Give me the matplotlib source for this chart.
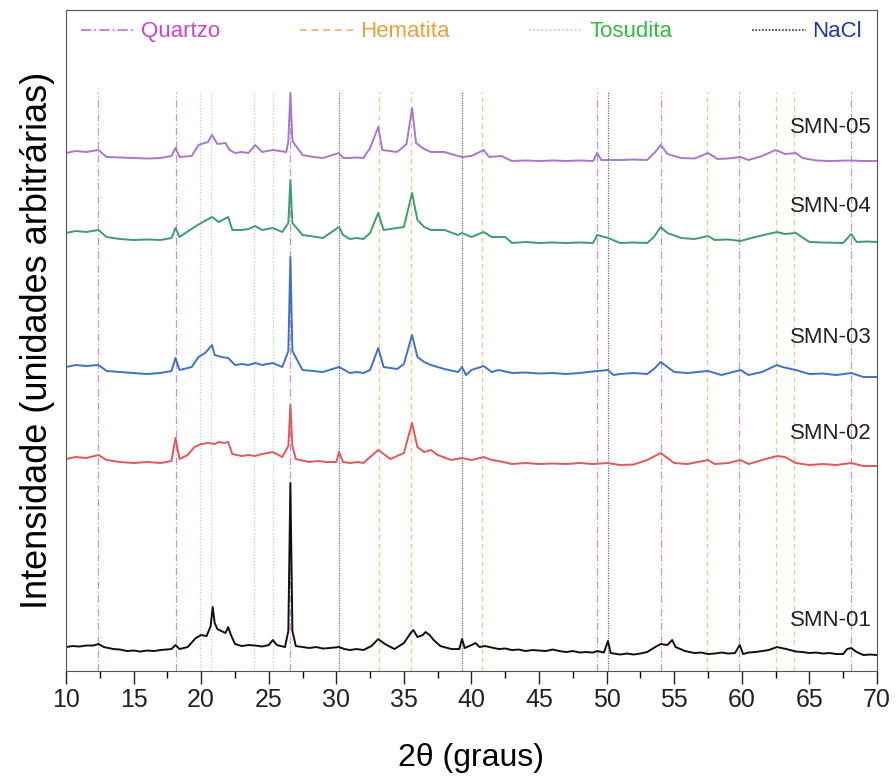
import numpy as np
import matplotlib.pyplot as plt
from matplotlib.lines import Line2D
from matplotlib.ticker import MultipleLocator

plt.rcParams['font.family'] = ['Liberation Sans', 'DejaVu Sans']

# difratogramas (altura em unidades arbitrarias, ja empilhados)
x01 = [10, 10.5, 11, 11.5, 12, 12.4, 12.8, 13.5, 14, 14.5, 15, 15.5, 16, 16.5, 17, 17.8, 18.1, 18.4, 19,
       19.6, 20, 20.4, 20.7, 20.85, 21, 21.2, 21.5, 21.8, 22, 22.2, 22.5, 23, 23.5, 24, 24.5, 25, 25.3,
       25.6, 26.2, 26.45, 26.6, 26.75, 27, 27.5, 28, 28.5, 29, 29.5, 30.2, 30.6, 31, 31.5, 32, 32.6, 33.1,
       33.6, 34.3, 35, 35.5, 35.7, 36, 36.4, 36.6, 36.9, 37.2, 37.7, 38.5, 39.1, 39.3, 39.5, 40, 40.3,
       40.6, 41, 41.5, 42, 42.5, 43, 43.5, 44, 44.5, 45, 45.5, 46, 46.5, 47, 47.5, 48, 48.5, 49, 49.3,
       49.8, 50.1, 50.3, 51, 51.5, 52, 52.5, 53, 53.6, 54, 54.5, 54.85, 55.1, 55.8, 56.5, 57, 57.5, 58,
       58.5, 59, 59.5, 59.85, 60.1, 60.5, 61, 61.5, 62, 62.6, 63.3, 64, 64.5, 65, 65.5, 66, 66.5, 67,
       67.5, 67.8, 68.1, 68.5, 69, 69.5, 70]
y01 = [24, 25, 24.5, 25.5, 25.5, 27, 24, 22, 21.5, 20, 20.5, 19.5, 20.5, 20, 21, 22, 26, 22, 24,
       33, 36, 35, 45, 64, 48, 42, 40, 38, 44, 36, 27, 25, 26, 25.5, 24.5, 26, 31,
       26, 24, 40, 188, 40, 25, 24, 23, 24, 22.5, 23, 24, 22, 21, 22, 21, 25, 32,
       27, 22, 28, 38, 41, 34, 36, 39, 36, 31, 25, 22, 22, 32, 23, 26, 28,
       24, 25, 23.5, 22, 22.5, 21, 21.5, 20, 21, 20.5, 20, 21.5, 20, 19, 20, 18.5, 19, 18.5, 20,
       18.5, 30, 18, 16.5, 17.5, 16.5, 17.5, 19, 24, 27, 26, 31, 24, 20, 18, 18.5, 17, 17.5,
       18.5, 17.5, 18, 26, 17, 18.5, 19, 20, 21, 24, 22, 19.5, 19, 18, 18.5, 17.5, 18, 17,
       17, 22, 23, 19, 16, 16.5, 16]

x02 = [10, 10.7, 11.5, 12.4, 13, 14, 15, 16, 17, 17.8, 18.1, 18.4, 19, 19.5, 20, 20.5, 21, 21.3, 21.7,
       22, 22.3, 23, 23.5, 24, 24.5, 25.3, 26, 26.45, 26.6, 26.75, 27, 28, 28.6, 29.3, 30, 30.2, 30.5, 31,
       31.6, 32, 32.5, 33.1, 34, 35, 35.6, 36, 36.5, 37, 37.5, 38.5, 39.3, 40, 40.9, 41.5, 42, 43, 44,
       45, 46, 47, 48, 49, 50.1, 51, 52, 53, 54, 54.5, 55, 56, 57.5, 58, 59, 59.9, 60.5, 61.5, 62.6, 63.2,
       64, 65, 66, 67, 68.1, 69, 70]
y02 = [212, 214, 213, 216, 211, 209, 208, 209, 208, 210, 233, 212, 216, 224, 227, 228, 227, 229, 228,
       229, 217, 215, 216, 215, 217, 219, 214, 225, 266, 225, 212, 209, 210, 209, 209, 219, 209, 208,
       209, 208, 214, 221, 212, 218, 248, 224, 219, 221, 216, 211, 213, 211, 214, 211, 210, 207, 208,
       207, 207.5, 207, 208, 207, 208, 206, 206.5, 211, 218, 213, 208, 207, 211, 207, 208, 211, 207, 211,
       215, 214, 208, 206, 207, 206, 208, 205, 205]

x03 = [10, 10.7, 11.5, 12.4, 13, 14, 15, 16, 17, 17.8, 18.1, 18.4, 19.3, 19.8, 20.3, 20.8, 21, 21.5, 22,
       22.5, 23, 23.5, 24, 24.5, 25.3, 26, 26.45, 26.6, 26.75, 27.5, 28.3, 29, 30.2, 31, 31.5, 32, 32.5,
       33.1, 33.5, 34.5, 35, 35.6, 36, 36.5, 37, 38, 39, 39.3, 39.6, 40, 40.9, 41.5, 42, 43, 44, 45, 46,
       47, 48, 49.3, 50.1, 50.5, 51, 52, 53, 53.5, 54, 54.5, 55, 56, 57.5, 58.5, 59.9, 60.5, 61.5, 62.6,
       63, 64, 65, 66, 67, 68.1, 69, 70]
y03 = [304, 306, 305, 306, 300, 299, 298, 297, 298, 300, 313, 301, 304, 314, 318, 326, 316, 314, 313,
       306, 307, 306, 308, 306, 308, 304, 320, 414, 320, 301, 300, 299, 304, 298, 299, 298, 301,
       323, 304, 302, 307, 336, 314, 309, 306, 302, 299, 304, 296, 301, 305, 299, 301, 298, 298.5, 297.5,
       298, 297, 298, 300, 301, 296, 297, 298, 297, 302, 309, 304, 299, 298, 300, 296, 301, 296, 299,
       306, 304, 301, 297, 297.5, 296, 298, 294, 294]

x04 = [10, 10.7, 11.5, 12.4, 13, 14, 15, 16, 17, 17.8, 18.1, 18.4, 19.5, 20, 20.8, 21.3, 22, 22.3, 23,
       23.5, 24, 24.5, 25.3, 26, 26.45, 26.6, 26.75, 27.5, 28.3, 29, 30.2, 30.5, 31, 31.5, 32, 32.5, 33.1,
       33.5, 34.5, 35, 35.6, 36, 36.5, 37, 38, 39, 39.3, 40, 40.9, 41.5, 42.5, 43, 44, 45, 46, 47, 48, 49,
       49.3, 50.1, 51, 52, 53, 53.5, 54, 54.5, 55.5, 56.5, 57.5, 58, 59, 59.9, 61, 62.6, 63.2, 64, 65, 66,
       67.5, 68.1, 68.5, 69.3, 70]
y04 = [438, 440, 439, 441, 434, 432, 431, 431.5, 431, 433, 443, 434, 444, 448, 454, 449, 454, 441, 441,
       442, 445, 441, 443, 439, 448, 491, 448, 436, 434.5, 433, 444, 436, 432, 433, 432, 438, 458,
       441, 443, 444, 478, 451, 444, 441, 441, 436, 438, 434, 439, 434, 434, 428, 429, 428, 428.5, 428,
       428.5, 428, 436, 433, 428, 428.5, 428, 434, 444, 438, 433, 432, 435, 431, 431.5, 430, 434, 439,
       437, 438, 429, 428.5, 428, 437, 429, 429.5, 429]

x05 = [10, 10.7, 11.5, 12.4, 13, 14, 15, 16, 17, 17.8, 18.1, 18.4, 19.3, 19.8, 20.5, 20.8, 21.2, 21.8,
       22.1, 22.5, 23, 23.5, 24, 24.5, 25.3, 26.3, 26.45, 26.6, 26.75, 27.5, 28.3, 29, 30.2, 30.5, 31,
       31.5, 32, 32.5, 33.1, 33.4, 34.5, 35.2, 35.6, 35.9, 36.5, 37, 38, 39, 39.3, 40, 40.9, 41.3, 42.2,
       43, 44, 45, 46, 47, 48, 49, 49.3, 49.6, 50.1, 51, 52, 53, 53.6, 54, 54.5, 55.5, 56.5, 57.5, 58.2,
       59, 59.9, 60.5, 61.5, 62.5, 63.2, 64, 64.5, 65.5, 66.5, 68, 69, 70]
y05 = [518, 520, 519, 521, 514, 513.5, 513, 512.5, 513, 515, 523, 514, 515, 526, 529, 536, 527, 528,
       521, 518, 519, 518, 526, 519, 521, 519, 530, 578, 530, 516, 514, 513, 518, 513, 513,
       513.5, 513, 523, 544, 521, 519, 527, 563, 528, 522, 519, 519, 515, 514, 515, 521, 514, 515,
       510, 510.5, 510, 510.5, 510, 510.5, 510, 518, 511, 511, 511, 511.5, 511, 519, 526, 517, 513,
       512.5, 518, 512, 512.5, 514, 511, 515, 521, 517, 518, 513, 510.5, 510, 510.5, 510, 510]

amostras = ['SMN-01', 'SMN-02', 'SMN-03', 'SMN-04', 'SMN-05']
cores = ['#111111', '#e25858', '#3f72c4', '#3e9c72', '#a878cc']
pos_rotulo = [51, 238, 334, 464, 543]

# posicoes das fases (2 theta)
quartzo = [12.4, 18.1, 26.6, 49.3, 54.0, 59.8, 68.1]
hematita = [33.15, 35.5, 40.8, 57.4, 62.5, 63.9]
tosudita = [19.9, 20.7, 23.9, 25.3]
nacl = [30.2, 39.3, 50.1]

fig = plt.figure(figsize=(8.96, 7.80), dpi=100)
ax = fig.add_axes([0.0737, 0.1397, 0.905, 0.8475])

topo = 579
ax.vlines(quartzo, 0, topo, colors='#c868c8', linestyles=(0, (6, 2, 1, 2)), lw=0.9, alpha=0.75)
ax.vlines(hematita, 0, topo, colors='#f0b060', linestyles=(0, (4, 3)), lw=0.9, alpha=0.75)
ax.vlines(tosudita, 0, topo, colors='#a8d8a8', linestyles=(0, (1, 1.5)), lw=0.9, alpha=0.9)
ax.vlines(nacl, 0, topo, colors='#505080', linestyles=(0, (1, 1)), lw=0.9, alpha=0.85)

series = [(x01, y01), (x02, y02), (x03, y03), (x04, y04), (x05, y05)]
for (xs, ys), c, nome, yr in zip(series, cores, amostras, pos_rotulo):
    ax.plot(xs, ys, color=c, lw=1.4)
    ax.text(69.6, yr, nome, ha='right', va='center', fontsize=16, color='#222222')

handles = [Line2D([], [], color='#c868c8', ls=(0, (6, 2, 1, 2)), lw=1.2),
           Line2D([], [], color='#f0b060', ls=(0, (4, 3)), lw=1.2),
           Line2D([], [], color='#a8d8a8', ls=(0, (1, 1.5)), lw=1.2),
           Line2D([], [], color='#303070', ls=(0, (1, 1)), lw=1.2)]
leg = ax.legend(handles, ['Quartzo', 'Hematita', 'Tosudita', 'NaCl'], ncol=4, loc='center',
                bbox_to_anchor=(0.5, 639 / 661), frameon=False, fontsize=16, handlelength=2.4,
                handletextpad=0.3, columnspacing=3.6)
for t, c in zip(leg.get_texts(), ['#cc44cc', '#e8a040', '#33bb44', '#2233aa']):
    t.set_color(c)

ax.set_xlim(10, 70)
ax.set_ylim(0, 661)
ax.xaxis.set_major_locator(MultipleLocator(5))
ax.xaxis.set_minor_locator(MultipleLocator(2.5))
ax.tick_params(axis='x', which='major', direction='out', length=9, width=1, labelsize=18, colors='#222222')
ax.tick_params(axis='x', which='minor', direction='out', length=5, width=1)
ax.tick_params(axis='y', left=False, labelleft=False)
for s in ax.spines.values():
    s.set_color('#555555')
ax.set_xlabel('2θ (graus)', fontsize=23, labelpad=22)
ax.set_ylabel('Intensidade (unidades arbitrárias)', fontsize=26, labelpad=8)

fig.savefig('out.png', dpi=100)
